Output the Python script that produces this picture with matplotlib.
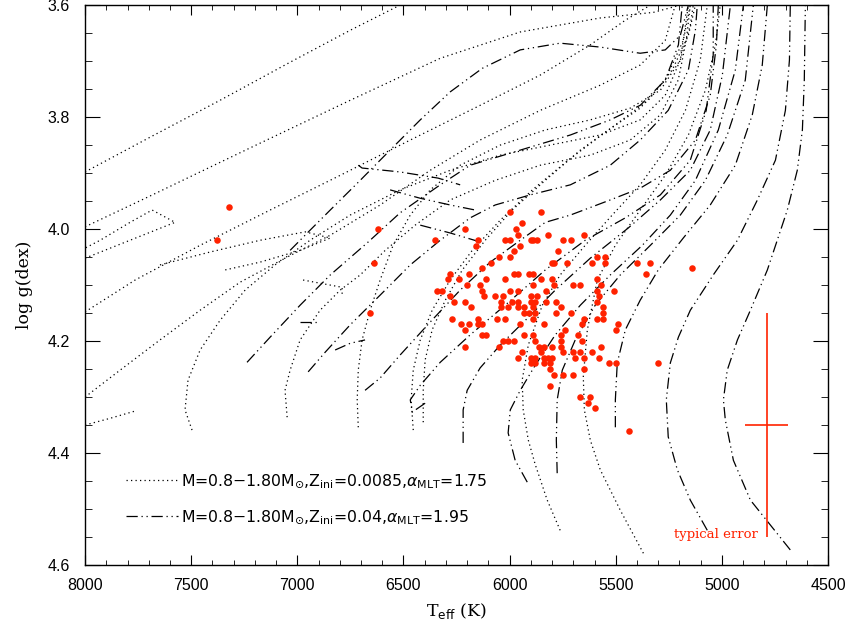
import matplotlib
matplotlib.use('Agg')
import matplotlib.pyplot as plt
from matplotlib.lines import Line2D

# observed stars (Teff, logg) grouped by logg row
star_teff = [
    7320,
    6000, 5850,
    5940,
    6620, 6210, 5970,
    5960, 5820, 5650,
    7380, 6350, 6150, 6020, 6000, 5900, 5890, 5870, 5750, 5710,
    6160, 5950,
    5980, 5770,
    6050, 6000, 5590, 5550,
    6640, 6090, 5800, 5790, 5730, 5610, 5550, 5400, 5340,
    6130, 5140,
    6280, 6190, 5980, 5960, 5910, 5890, 5360,
    6290, 6240, 6110, 6020, 5850, 5800, 5590,
    6200, 6140, 5890, 5790, 5700, 5670, 5570,
    6340, 6320, 6130, 6000, 5960, 5830, 5590, 5510,
    6280, 6120, 6070, 6030, 5900, 5870, 5580,
    6260, 6210, 6040, 5990, 5960, 5900, 5880, 5830, 5780, 5590,
    6180, 6040, 6010, 5960, 5930, 5890, 5760, 5560,
    6660, 5930, 5910, 5880, 5780, 5710, 5560,
    6270, 6150, 6060, 6020, 5890, 5650, 5590, 5560,
    6230, 6190, 6150, 6130, 5950, 5840, 5660, 5490,
    6210, 5740, 5500,
    6130, 6110, 5930, 5890, 5760, 5680,
    6030, 6010, 5980, 5880, 5760, 5660,
    6210, 6050, 5860, 5840, 5800, 5760, 5570,
    5940, 5850, 5750, 5700, 5670, 5610,
    5960, 5900, 5880, 5840, 5820, 5800, 5690, 5650, 5580,
    5900, 5880, 5840, 5810, 5530, 5500, 5300,
    5810, 5650,
    5790, 5750, 5700,
    5810,
    5670, 5620,
    5630,
    5600,
    5440,
]
star_logg = (
    [3.96] + [3.97] * 2 + [3.99] + [4.00] * 3 + [4.01] * 3 + [4.02] * 10
    + [4.03] * 2 + [4.04] * 2 + [4.05] * 4 + [4.06] * 9 + [4.07] * 2
    + [4.08] * 7 + [4.09] * 7 + [4.10] * 7 + [4.11] * 8 + [4.12] * 7
    + [4.13] * 10 + [4.14] * 8 + [4.15] * 7 + [4.16] * 8 + [4.17] * 8
    + [4.18] * 3 + [4.19] * 6 + [4.20] * 6 + [4.21] * 7 + [4.22] * 6
    + [4.23] * 9 + [4.24] * 7 + [4.25] * 2 + [4.26] * 3 + [4.28]
    + [4.30] * 2 + [4.31] + [4.32] + [4.36]
)

err_teff, err_logg = 4790, 4.35
err_dteff, err_dlogg = 100, 0.2

# Z_ini = 0.04 tracks (dash-dot-dot)
z04_a_teff = [4678, 4866, 4946, 4984, 4993, 4975, 4927, 4866, 4786, 4692, 4645, 4621, 4612, 4607]
z04_a_logg = [4.573, 4.484, 4.413, 4.341, 4.305, 4.252, 4.198, 4.145, 4.073, 3.966, 3.895, 3.823, 3.734, 3.600]
z04_b_teff = [5069, 5149, 5210, 5253, 5262, 5243, 5205, 5149, 5041, 4927, 4833, 4748, 4701, 4682, 4678]
z04_b_logg = [4.538, 4.484, 4.430, 4.371, 4.305, 4.239, 4.193, 4.145, 4.082, 4.020, 3.948, 3.877, 3.788, 3.698, 3.600]
z04_c_teff = [5502, 5502, 5493, 5455, 5385, 5300, 5182, 5055, 4937, 4857, 4810, 4786]
z04_c_logg = [4.354, 4.305, 4.239, 4.180, 4.127, 4.073, 4.016, 3.957, 3.886, 3.796, 3.707, 3.600]
z04_d_teff = [5776, 5780, 5776, 5752, 5691, 5597, 5479, 5337, 5196, 5078, 4975, 4890, 4852]
z04_d_logg = [4.436, 4.377, 4.305, 4.252, 4.198, 4.136, 4.082, 4.029, 3.975, 3.913, 3.832, 3.734, 3.600]
z04_e_teff = [5917, 5974, 6007, 5997, 5950, 5879, 5785, 5667, 5526, 5375, 5243, 5125, 5017, 4937, 4899]
z04_e_logg = [4.452, 4.413, 4.364, 4.323, 4.288, 4.243, 4.189, 4.136, 4.082, 4.029, 3.975, 3.913, 3.823, 3.716, 3.600]
z04_f_teff = [6219, 6219, 6200, 6139, 6044, 5926, 5785, 5620, 5441, 5290, 5149, 5055, 4998, 4960]
z04_f_logg = [4.382, 4.323, 4.288, 4.248, 4.207, 4.163, 4.109, 4.052, 3.998, 3.948, 3.895, 3.823, 3.725, 3.600]
z04_g_teff = [6398, 6459, 6468, 6421, 6327, 6186, 6021, 5832, 5644, 5455, 5290, 5149, 5074, 5041, 5041]
z04_g_logg = [4.311, 4.327, 4.305, 4.279, 4.238, 4.189, 4.136, 4.073, 4.020, 3.980, 3.939, 3.877, 3.788, 3.689, 3.600]
z04_h_teff = [6681, 6610, 6516, 6374, 6233, 6091, 5950, 5832, 5714, 5526, 5385, 5243, 5125, 5055, 5026, 5017]
z04_h_logg = [4.288, 4.266, 4.225, 4.166, 4.109, 4.059, 4.020, 3.988, 3.975, 3.948, 3.927, 3.895, 3.841, 3.761, 3.671, 3.600]
z04_i_teff = [6949, 6869, 6751, 6610, 6468, 6327, 6186, 6068, 5903, 5714, 5526, 5385, 5253, 5158, 5125, 5116]
z04_i_logg = [4.255, 4.220, 4.171, 4.118, 4.064, 4.020, 3.980, 3.957, 3.939, 3.921, 3.886, 3.841, 3.788, 3.716, 3.645, 3.600]
z04_j_teff = [7237, 7128, 6987, 6845, 6666, 6516, 6327, 6186, 5950, 5714, 5526, 5385, 5267, 5205, 5187]
z04_j_logg = [4.238, 4.193, 4.136, 4.082, 4.023, 3.971, 3.921, 3.886, 3.859, 3.832, 3.805, 3.779, 3.734, 3.671, 3.600]
z04_k_teff = [7034, 6940, 6845, 6704, 6563, 6421, 6280, 6129, 5950, 5762, 5573, 5385, 5267, 5196, 5158]
z04_k_logg = [4.038, 4.002, 3.966, 3.913, 3.859, 3.805, 3.755, 3.713, 3.680, 3.668, 3.675, 3.686, 3.680, 3.654, 3.600]
# short hook pieces of the Z=0.04 tracks
z04_h1_teff = [6713, 6695, 6516, 6337, 6233]
z04_h1_logg = [3.886, 3.891, 3.898, 3.909, 3.921]
z04_h2_teff = [6563, 6421, 6280, 6162]
z04_h2_logg = [3.930, 3.945, 3.957, 3.966]
z04_h3_teff = [6421, 6280, 6139]
z04_h3_logg = [3.993, 4.007, 4.023]
z04_h4_teff = [6822, 6751, 6681]
z04_h4_logg = [4.216, 4.204, 4.198]
z04_h5_teff = [6987, 6907]
z04_h5_logg = [4.166, 4.166]

# Z_ini = 0.0085 tracks (dotted)
z0085_a_teff = [5370, 5479, 5573, 5620, 5648, 5653, 5634, 5587, 5502, 5385, 5267, 5158, 5078, 5031, 5008]
z0085_a_logg = [4.579, 4.502, 4.430, 4.377, 4.323, 4.264, 4.180, 4.091, 4.029, 3.966, 3.904, 3.832, 3.752, 3.671, 3.600]
z0085_b_teff = [5762, 5823, 5879, 5912, 5936, 5941, 5912, 5846, 5762, 5644, 5517, 5385, 5267, 5172, 5102, 5069]
z0085_b_logg = [4.538, 4.484, 4.421, 4.377, 4.323, 4.270, 4.207, 4.136, 4.082, 4.029, 3.975, 3.921, 3.859, 3.788, 3.698, 3.600]
z0085_c_teff = [6407, 6407, 6398, 6365, 6303, 6223, 6115, 5988, 5832, 5667, 5502, 5347, 5234, 5158, 5125]
z0085_c_logg = [4.345, 4.288, 4.234, 4.180, 4.127, 4.073, 4.020, 3.966, 3.913, 3.859, 3.814, 3.770, 3.716, 3.654, 3.600]
z0085_d_teff = [6454, 6464, 6454, 6421, 6365, 6280, 6176, 6044, 5893, 5724, 5549, 5385, 5267, 5182, 5149]
z0085_d_logg = [4.359, 4.305, 4.252, 4.198, 4.145, 4.091, 4.038, 3.984, 3.930, 3.877, 3.827, 3.784, 3.734, 3.663, 3.600]
z0085_e_teff = [6713, 6718, 6713, 6695, 6657, 6610, 6549, 6468, 6374, 6233, 6044, 5832, 5620, 5432, 5290, 5196, 5149, 5135]
z0085_e_logg = [4.354, 4.305, 4.252, 4.198, 4.145, 4.091, 4.029, 3.975, 3.930, 3.886, 3.850, 3.823, 3.805, 3.784, 3.752, 3.698, 3.636, 3.600]
z0085_f_teff = [7048, 7058, 7034, 6987, 6893, 6798, 6704, 6586, 6445, 6280, 6068, 5856, 5620, 5432, 5290, 5206, 5168, 5149]
z0085_f_logg = [4.336, 4.288, 4.252, 4.198, 4.145, 4.109, 4.082, 4.038, 3.993, 3.948, 3.913, 3.886, 3.868, 3.841, 3.796, 3.734, 3.663, 3.600]
z0085_g_teff = [7496, 7529, 7515, 7458, 7364, 7246, 7105, 6940, 6751, 6516, 6280, 6044, 5809, 5573, 5385, 5267, 5196, 5158]
z0085_g_logg = [4.359, 4.323, 4.270, 4.216, 4.163, 4.109, 4.064, 4.020, 3.975, 3.930, 3.895, 3.868, 3.850, 3.832, 3.805, 3.761, 3.698, 3.600]
z0085_h_teff = [8000, 7835, 7647, 7458, 7270, 7058, 6845, 6610, 6374, 6139, 5856, 5573, 5385, 5267, 5220]
z0085_h_logg = [4.300, 4.252, 4.198, 4.145, 4.095, 4.052, 4.011, 3.957, 3.895, 3.841, 3.788, 3.743, 3.707, 3.663, 3.600]
z0085_i_teff = [8000, 7764, 7458, 7128, 6798, 6468, 6139, 5856, 5620, 5455, 5337]
z0085_i_logg = [4.148, 4.091, 4.029, 3.966, 3.904, 3.841, 3.779, 3.725, 3.671, 3.627, 3.600]
z0085_j_teff = [8000, 7694, 7222, 6751, 6327, 5950, 5573, 5323, 5196]
z0085_j_logg = [3.996, 3.941, 3.855, 3.770, 3.695, 3.648, 3.623, 3.613, 3.600]
z0085_k_teff = [8000, 7694, 7364, 7034, 6751, 6516]
z0085_k_logg = [3.898, 3.836, 3.770, 3.702, 3.645, 3.600]
# loops / hooks of the hot Z=0.0085 tracks
z0085_l1_teff = [8000, 7788, 7576, 7684, 7788, 7929, 8000]
z0085_l1_logg = [4.052, 4.020, 3.988, 3.966, 3.988, 4.020, 4.034]
z0085_l2_teff = [8000, 7882, 7764]
z0085_l2_logg = [4.350, 4.338, 4.325]
z0085_l3_teff = [7647, 7411, 7175, 6963, 6845, 6987, 7175, 7340]
z0085_l3_logg = [4.064, 4.041, 4.020, 4.005, 4.016, 4.038, 4.059, 4.073]
z0085_l4_teff = [6973, 6789, 6789]
z0085_l4_logg = [4.091, 4.104, 4.118]

tracks_z04 = [
    (z04_a_teff, z04_a_logg), (z04_b_teff, z04_b_logg), (z04_c_teff, z04_c_logg),
    (z04_d_teff, z04_d_logg), (z04_e_teff, z04_e_logg), (z04_f_teff, z04_f_logg),
    (z04_g_teff, z04_g_logg), (z04_h_teff, z04_h_logg), (z04_i_teff, z04_i_logg),
    (z04_j_teff, z04_j_logg), (z04_k_teff, z04_k_logg),
    (z04_h1_teff, z04_h1_logg), (z04_h2_teff, z04_h2_logg), (z04_h3_teff, z04_h3_logg),
    (z04_h4_teff, z04_h4_logg), (z04_h5_teff, z04_h5_logg),
]
tracks_z0085 = [
    (z0085_a_teff, z0085_a_logg), (z0085_b_teff, z0085_b_logg), (z0085_c_teff, z0085_c_logg),
    (z0085_d_teff, z0085_d_logg), (z0085_e_teff, z0085_e_logg), (z0085_f_teff, z0085_f_logg),
    (z0085_g_teff, z0085_g_logg), (z0085_h_teff, z0085_h_logg), (z0085_i_teff, z0085_i_logg),
    (z0085_j_teff, z0085_j_logg), (z0085_k_teff, z0085_k_logg),
    (z0085_l1_teff, z0085_l1_logg), (z0085_l2_teff, z0085_l2_logg),
    (z0085_l3_teff, z0085_l3_logg), (z0085_l4_teff, z0085_l4_logg),
]

label_z0085 = r'M=0.8$-$1.80M$_{\odot}$,Z$_{\rm ini}$=0.0085,$\alpha_{\rm MLT}$=1.75'
label_z04 = r'M=0.8$-$1.80M$_{\odot}$,Z$_{\rm ini}$=0.04,$\alpha_{\rm MLT}$=1.95'

dot_style = (0, (1, 2.6))
dashdot_style = (0, (9, 3, 1, 3, 1, 3))
red = '#ff2200'

plt.rcParams['font.family'] = ['Liberation Sans', 'DejaVu Sans']
fig = plt.figure(figsize=(8.59, 6.37), dpi=100)
ax = fig.add_axes([0.099, 0.113, 0.865, 0.879])

for t, g in tracks_z0085:
    ax.plot(t, g, color='black', lw=0.9, linestyle=dot_style)
for t, g in tracks_z04:
    ax.plot(t, g, color='black', lw=0.9, linestyle=dashdot_style)

ax.plot(star_teff, star_logg, 'o', color=red, markersize=4.7, markeredgewidth=0)

ax.errorbar([err_teff], [err_logg], xerr=err_dteff, yerr=err_dlogg,
            fmt='none', ecolor=red, elinewidth=1.2, capsize=0)
ax.text(err_teff + 40, err_logg + 0.195, 'typical error', color=red,
        fontsize=9.5, family='DejaVu Serif', ha='right', va='center')

handles = [Line2D([], [], color='black', lw=0.9, linestyle=dot_style),
           Line2D([], [], color='black', lw=0.9, linestyle=dashdot_style)]
leg = ax.legend(handles, [label_z0085, label_z04], loc='lower left',
                bbox_to_anchor=(0.055, 0.07), frameon=False,
                prop={'family': 'DejaVu Sans', 'size': 11.3},
                handlelength=3.3, handletextpad=0.2, labelspacing=1.15,
                borderpad=0, borderaxespad=0)

ax.set_xlim(8000, 4500)
ax.set_ylim(4.6, 3.6)
ax.set_xticks([8000, 7500, 7000, 6500, 6000, 5500, 5000, 4500])
ax.set_xticks(list(range(4500, 8001, 100)), minor=True)
ax.set_yticks([3.6, 3.8, 4.0, 4.2, 4.4, 4.6])
ax.set_yticks([3.6 + 0.05 * i for i in range(21)], minor=True)
ax.set_yticklabels(['3.6', '3.8', '4.0', '4.2', '4.4', '4.6'])

ax.tick_params(which='both', direction='in', top=True, right=True, labelsize=11.5)
ax.tick_params(axis='x', which='major', length=7, pad=9)
ax.tick_params(axis='x', which='minor', length=3.5)
ax.tick_params(axis='y', which='major', length=11, pad=11)
ax.tick_params(axis='y', which='minor', length=5)
for s in ax.spines.values():
    s.set_linewidth(1.0)

ax.set_xlabel(r'T$_{\rm eff}$ (K)', fontsize=12.5, family='DejaVu Serif', labelpad=6)
ax.set_ylabel('log g(dex)', fontsize=12.5, family='DejaVu Serif', labelpad=10)

fig.savefig('out.png', dpi=100)
